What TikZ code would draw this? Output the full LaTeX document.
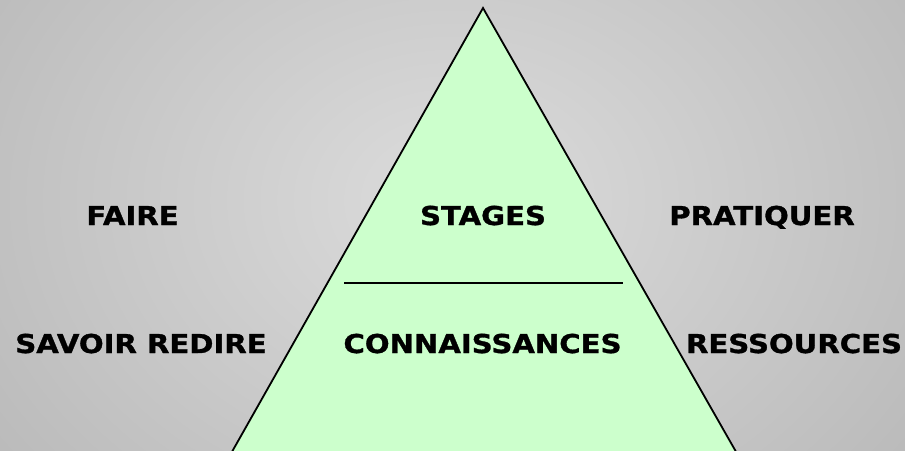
\documentclass[tikz,border=0pt]{standalone}
\usepackage{fontspec}
\setmainfont{DejaVu Sans}[FakeStretch=1.12, BoldFeatures={FakeBold=1.2}]
\usetikzlibrary{calc}
\definecolor{bgin}{RGB}{220,220,220}
\definecolor{bgout}{RGB}{178,178,178}
\definecolor{pyrgreen}{RGB}{204,255,204}
\tikzset{
  lbl/.style={font=\fontsize{26}{30}\selectfont\bfseries, text=black, inner sep=0pt, anchor=base},
  edge/.style={draw=black, line width=1.8pt}
}
\begin{document}
\begin{tikzpicture}[x=1pt,y=-1pt]
\useasboundingbox (0,0) rectangle (905,450);
\begin{scope}
\clip (0,0) rectangle (905,450);
\shade[inner color=bgin, outer color=bgout] (-250,-350) rectangle (1155,750);
\coordinate (apex) at (483,8);
\coordinate (bl) at (233,450);
\coordinate (br) at (735,450);
\filldraw[fill=pyrgreen, edge] (apex) -- ($(apex)!1.05!(bl)$) -- ($(apex)!1.05!(br)$) -- cycle;
\coordinate (la) at (344,283);
\coordinate (lb) at (623,283);
\draw[line width=1.6pt] (la) -- (lb);
\end{scope}
\node[lbl] (faire) at (132.5,225) {FAIRE};
\node[lbl] (stages) at (483,225) {STAGES};
\node[lbl] (prat) at (762,225) {PRATIQUER};
\node[lbl] (savoir) at (141,353) {SAVOIR REDIRE};
\node[lbl] (conn) at (482.5,353) {CONNAISSANCES};
\node[lbl] (res) at (794,353) {RESSOURCES};
\end{tikzpicture}
\end{document}
